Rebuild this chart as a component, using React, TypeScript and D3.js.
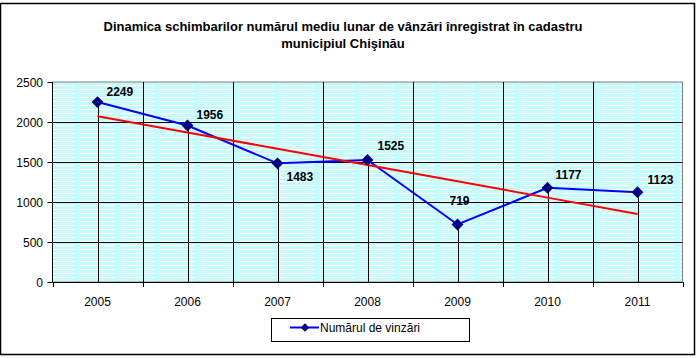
import React, { useRef, useEffect } from 'react';
import * as d3 from 'd3';

const titleLines = [
  'Dinamica schimbarilor numărul mediu lunar de vânzări înregistrat în cadastru',
  'municipiul Chişinău',
];
const years = ['2005', '2006', '2007', '2008', '2009', '2010', '2011'];
const sales = [2249, 1956, 1483, 1525, 719, 1177, 1123];
const yTicks = [0, 500, 1000, 1500, 2000, 2500];
const seriesName = 'Numărul de vinzări';
// label placement relative to each point [dx, dy]
const labelOffsets = [
  [9, -6], [9, -7], [9, 18], [10, -10], [-8, -19], [8, -9], [10, -8],
];

const FONT = 'Arial, "Liberation Sans", Helvetica, sans-serif';

const App = () => {
  const svgRef = useRef<SVGSVGElement>(null);

  useEffect(() => {
    const svg = d3.select(svgRef.current);
    svg.selectAll('*').remove();

    const width = 699;
    const height = 358;
    const plot = { left: 52.5, right: 682.5, top: 82, bottom: 282 };

    const x = d3.scaleBand().domain(years).range([plot.left, plot.right]);
    const y = d3.scaleLinear().domain([0, 2500]).range([plot.bottom, plot.top]);
    const cx = (d: string) => x(d)! + x.bandwidth() / 2;

    svg.append('rect').attr('width', width).attr('height', height).attr('fill', '#fff');

    // chart frame
    svg.append('rect')
      .attr('x', 0.5).attr('y', 3.5)
      .attr('width', 694).attr('height', 351)
      .attr('fill', 'none').attr('stroke', '#000').attr('stroke-width', 1.5);

    // title
    titleLines.forEach((t, i) => {
      svg.append('text')
        .attr('x', 343).attr('y', 31 + i * 17)
        .attr('text-anchor', 'middle')
        .style('font-family', FONT)
        .style('font-size', '13px')
        .style('font-weight', 'bold')
        .text(t);
    });

    // striped background
    const defs = svg.append('defs');
    const pat = defs.append('pattern')
      .attr('id', 'stripes')
      .attr('patternUnits', 'userSpaceOnUse')
      .attr('width', 40).attr('height', 4);
    pat.append('rect').attr('width', 40).attr('height', 4).attr('fill', '#c6fafc');
    pat.append('rect').attr('x', 0).attr('y', 1).attr('width', 34).attr('height', 1).attr('fill', '#ffffff');

    svg.append('rect')
      .attr('x', plot.left).attr('y', plot.top)
      .attr('width', plot.right - plot.left).attr('height', plot.bottom - plot.top)
      .attr('fill', 'url(#stripes)')
      .attr('stroke', '#808080');

    // horizontal grid
    svg.append('g')
      .selectAll('line')
      .data(yTicks.slice(1, -1))
      .join('line')
      .attr('x1', plot.left).attr('x2', plot.right)
      .attr('y1', d => y(d) + 0.5).attr('y2', d => y(d) + 0.5)
      .attr('stroke', '#000');

    // vertical grid at category boundaries
    svg.append('g')
      .selectAll('line')
      .data(years.slice(1))
      .join('line')
      .attr('x1', d => Math.round(x(d)!) + 0.5).attr('x2', d => Math.round(x(d)!) + 0.5)
      .attr('y1', plot.top).attr('y2', plot.bottom)
      .attr('stroke', '#000');

    // drop lines
    svg.append('g')
      .selectAll('line')
      .data(years)
      .join('line')
      .attr('x1', d => Math.round(cx(d)) + 0.5).attr('x2', d => Math.round(cx(d)) + 0.5)
      .attr('y1', (d, i) => y(sales[i])).attr('y2', plot.bottom)
      .attr('stroke', '#000');

    // axes
    svg.append('line')
      .attr('x1', plot.left).attr('x2', plot.left)
      .attr('y1', plot.top).attr('y2', plot.bottom)
      .attr('stroke', '#000');
    svg.append('line')
      .attr('x1', plot.left).attr('x2', plot.right)
      .attr('y1', plot.bottom + 0.5).attr('y2', plot.bottom + 0.5)
      .attr('stroke', '#000');

    const yAxis = svg.append('g');
    yTicks.forEach(t => {
      yAxis.append('line')
        .attr('x1', plot.left - 5).attr('x2', plot.left)
        .attr('y1', y(t) + 0.5).attr('y2', y(t) + 0.5)
        .attr('stroke', '#000');
      yAxis.append('text')
        .attr('x', 43).attr('y', y(t) + 4.5)
        .attr('text-anchor', 'end')
        .style('font-family', FONT)
        .style('font-size', '12px')
        .text(t);
    });

    const xAxis = svg.append('g');
    years.concat(['end']).forEach((d, i) => {
      const bx = Math.round(plot.left + i * x.bandwidth()) + 0.5;
      xAxis.append('line')
        .attr('x1', bx).attr('x2', bx)
        .attr('y1', plot.bottom).attr('y2', plot.bottom + 5)
        .attr('stroke', '#000');
    });
    years.forEach(d => {
      xAxis.append('text')
        .attr('x', cx(d)).attr('y', 306)
        .attr('text-anchor', 'middle')
        .style('font-family', FONT)
        .style('font-size', '12px')
        .text(d);
    });

    // series line
    const line = d3.line<number>()
      .x((d, i) => cx(years[i]))
      .y(d => y(d));
    svg.append('path')
      .datum(sales)
      .attr('d', line)
      .attr('fill', 'none')
      .attr('stroke', '#0000ff')
      .attr('stroke-width', 2);

    // linear trendline
    const idx = d3.range(years.length);
    const mx = d3.mean(idx)!;
    const my = d3.mean(sales)!;
    const slope = d3.sum(idx, i => (i - mx) * (sales[i] - my)) / d3.sum(idx, i => (i - mx) ** 2);
    const trend = idx.map(i => my + slope * (i - mx));
    svg.append('path')
      .datum(trend)
      .attr('d', line)
      .attr('fill', 'none')
      .attr('stroke', '#ff0000')
      .attr('stroke-width', 2);

    // markers
    const diamond = d3.symbol().type(d3.symbolDiamond2).size(90);
    svg.append('g')
      .selectAll('path')
      .data(sales)
      .join('path')
      .attr('d', diamond)
      .attr('transform', (d, i) => `translate(${cx(years[i])},${y(d)})`)
      .attr('fill', '#000080');

    // data labels
    svg.append('g')
      .selectAll('text')
      .data(sales)
      .join('text')
      .attr('x', (d, i) => cx(years[i]) + labelOffsets[i][0])
      .attr('y', (d, i) => y(d) + labelOffsets[i][1])
      .style('font-family', FONT)
      .style('font-size', '12px')
      .style('font-weight', 'bold')
      .text(d => d);

    // legend
    const lg = svg.append('g');
    lg.append('rect')
      .attr('x', 271.5).attr('y', 318.5)
      .attr('width', 198).attr('height', 23)
      .attr('fill', '#fff').attr('stroke', '#000');
    lg.append('line')
      .attr('x1', 290).attr('x2', 319)
      .attr('y1', 327.5).attr('y2', 327.5)
      .attr('stroke', '#0000ff').attr('stroke-width', 2);
    lg.append('path')
      .attr('d', d3.symbol().type(d3.symbolDiamond2).size(45))
      .attr('transform', 'translate(305,327.5)')
      .attr('fill', '#000080');
    lg.append('text')
      .attr('x', 320).attr('y', 332)
      .style('font-family', FONT)
      .style('font-size', '12px')
      .text(seriesName);
  }, []);

  return (
    <svg
      ref={svgRef}
      width={699}
      height={358}
      style={{ position: 'absolute', left: 0, top: 0, display: 'block' }}
    />
  );
};

export default App;
